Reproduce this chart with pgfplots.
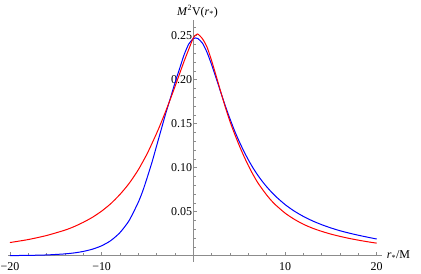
\documentclass[border=0pt]{standalone}
\usepackage{fontspec}
\setmainfont{Liberation Serif}
\usepackage{pgfplots}
\usepackage{pgfplotstable}
\pgfplotsset{compat=1.18}
\pgfplotstableread{
r V
-20 0.00017
-18 0.0004
-16 0.0009
-14 0.0021
-13 0.0032
-12 0.0049
-11 0.00745
-10 0.0113
-9 0.0172
-8 0.0263
-7 0.0400
-6 0.0608
-5.5 0.0740
-5 0.0898
-4.5 0.1065
-4 0.1250
-3.5 0.1435
-3 0.1620
-2.5 0.1790
-2 0.1965
-1.5 0.2125
-1 0.2285
-0.5 0.2405
0 0.2468
0.25 0.2475
0.5 0.2468
1 0.2415
1.5 0.2310
2 0.2170
2.5 0.2015
3 0.1855
3.5 0.1700
4 0.1555
4.5 0.1420
5 0.1300
5.5 0.1190
6 0.1090
6.5 0.1000
7 0.0920
7.5 0.0848
8 0.0784
8.5 0.0726
9 0.0673
10 0.0582
11 0.0508
12 0.0447
13 0.0396
14 0.0353
15 0.0316
16 0.0284
17 0.0257
18 0.0233
19 0.0211
20 0.0190
}\blue
\pgfplotstableread{
r V
-20 0.0150
-18 0.0184
-16 0.0230
-14 0.0291
-13 0.0331
-12 0.0380
-11 0.0437
-10 0.0507
-9 0.0592
-8 0.0697
-7 0.0822
-6 0.0977
-5 0.1167
-4 0.1392
-3.5 0.1515
-3 0.1645
-2.5 0.1781
-2 0.1922
-1.5 0.2067
-1 0.2211
-0.5 0.2345
0 0.2475
0.45 0.2520
1 0.2465
1.5 0.2370
2 0.2215
2.5 0.2040
3 0.1860
3.5 0.1685
4 0.1525
4.5 0.1385
5 0.1255
5.5 0.1135
6 0.1025
6.5 0.0925
7 0.0835
7.5 0.0760
8 0.0690
8.5 0.0628
9 0.0575
10 0.0485
11 0.0415
12 0.0358
13 0.0313
14 0.0277
15 0.0246
16 0.0220
17 0.0197
18 0.0177
19 0.0159
20 0.0143
}\red
\begin{document}
\begin{tikzpicture}
\begin{axis}[
  scale only axis, width=374.1bp, height=242bp,
  xmin=-20.2, xmax=20.6, ymin=-0.007, ymax=0.268,
  axis lines=middle,
  axis line style={draw=black!45, -, line width=0.6bp},
  xtick={-20,-10,10,20}, xticklabels={−20,−10,10,20},
  minor xtick={-18,-16,-14,-12,-8,-6,-4,-2,2,4,6,8,12,14,16,18},
  ytick={0.05,0.1,0.15,0.2,0.25}, yticklabels={0.05,0.10,0.15,0.20,0.25},
  minor ytick={0.01,0.02,0.03,0.04,0.06,0.07,0.08,0.09,0.11,0.12,0.13,0.14,0.16,0.17,0.18,0.19,0.21,0.22,0.23,0.24,0.26},
  tick align=inside,
  major tick length=4bp, minor tick length=2.5bp,
  tick style={draw=black!45, line width=0.5bp},
  ticklabel style={font=\fontsize{12}{14}\selectfont, text=black},
  xticklabel style={inner sep=0pt, anchor=north, yshift=-6.5bp},
  yticklabel style={inner sep=0pt, anchor=east, xshift=-1bp},
  clip=false,
]
\addplot[blue, line width=1bp, smooth, tension=0.4] table[x=r, y=V] {\blue};
\addplot[red, line width=1bp, smooth, tension=0.4] table[x=r, y=V] {\red};
\node[anchor=base west, font=\fontsize{12}{14}\selectfont, inner sep=0pt] at (axis cs:-1.8,0.2735) {\textit{M}\textsuperscript{2}V(\textit{r}\textsubscript{*})};
\node[anchor=base west, font=\fontsize{12}{14}\selectfont, inner sep=0pt] at (axis cs:21.1,-0.0037) {\textit{r}\textsubscript{*}/M};
\coordinate (O) at (rel axis cs:0,0);
\end{axis}
\pgfresetboundingbox
\path[use as bounding box] ([shift={(-8.1bp,-12.1bp)}]O) rectangle ([shift={(412.9bp,261.9bp)}]O);
\end{tikzpicture}
\end{document}
